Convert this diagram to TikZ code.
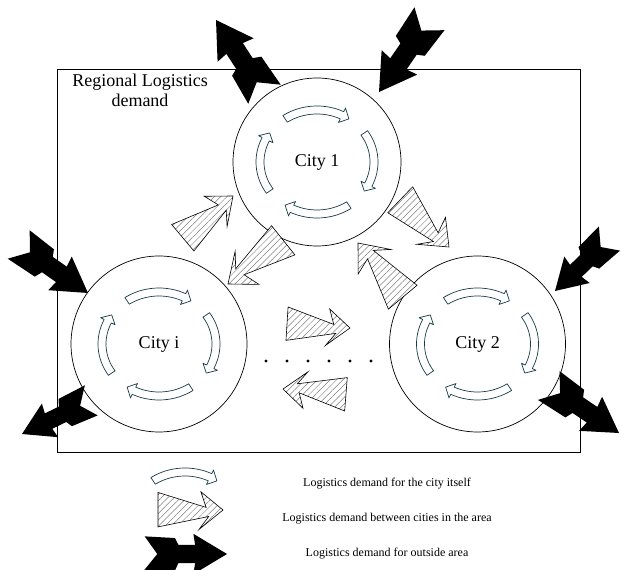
\documentclass[tikz,border=0pt]{standalone}
\usepackage{fontspec}
\setmainfont{Liberation Serif}
\usetikzlibrary{positioning,calc,math,patterns.meta}
\definecolor{cycleline}{RGB}{22,58,70}
\tikzset{
	city/.style = {draw, circle, line width=0.7pt, minimum size=#1, inner sep=0pt, font=\fontsize{18}{20}\selectfont},
	regionbox/.style = {draw, rectangle, line width=0.8pt, minimum width=523pt, minimum height=383pt},
	regionlabel/.style = {align=center, font=\fontsize{18}{20}\selectfont},
	legendtext/.style = {font=\fontsize{12}{14}\selectfont},
	selfline/.style = {draw=cycleline, fill=white, line width=0.7pt, line join=round},
	hatchline/.style = {draw, line width=0.6pt, line join=miter, preaction={fill=white}, pattern={Lines[angle=#1, distance=4.5pt, line width=0.5pt]}, pattern color=gray},
	hatchline/.default = 45
}
\tikzset{%
	pics/selfflow/.style={code={
			\foreach \a in {#1}{
				\path[selfline] (\a+34:61 and 56) arc[start angle=\a+34, end angle=\a-26, x radius=61, y radius=56]
				-- (\a-26:65 and 60) -- (\a-34:57 and 52) -- (\a-26:49 and 44) -- (\a-26:53 and 48)
				arc[start angle=\a-26, end angle=\a+34, x radius=53, y radius=48] -- cycle;
			}
		}},
	pics/areaflow/.style args={from (#1,#2) to (#3,#4)}{code={
			\tikzmath{\ux = #3-#1; \uy = #4-#2; \vx = #2-#4;}
			\begin{scope}[shift={(#1,#2)}, x={(\ux pt,\uy pt)}, y={(\vx pt,\ux pt)}]
				\path[hatchline] (0,0.27) -- (0.74,0.04) -- (0.66,0.28) -- (1,0) -- (0.63,-0.3) -- (0.78,-0.1) -- (0,-0.26) -- cycle;
			\end{scope}
		}},
	pics/outflow/.style args={from (#1,#2) to (#3,#4)}{code={
			\tikzmath{\ux = #3-#1; \uy = #4-#2; \vx = #2-#4;}
			\begin{scope}[shift={(#1,#2)}, x={(\ux pt,\uy pt)}, y={(\vx pt,\ux pt)}]
				\fill (0.02,0.21) -- (0.38,0.19) -- (0.42,0.11) -- (0.62,0.11) -- (0.6,0.24) -- (1,0) -- (0.6,-0.24) -- (0.62,-0.11) -- (0.42,-0.11) -- (0.38,-0.2) -- (0,-0.21) -- (0.17,0) -- cycle;
			\end{scope}
		}}
}

\begin{document}
\begin{tikzpicture}[x=1pt, y=1pt]
	\useasboundingbox (0,0) rectangle (621,570);
	\node[regionbox] (region) at (318.5,309.5) {};
	\node[regionlabel] (regionname) at (140,480) {Regional Logistics\\demand};
	\node[city=168pt] (city1) at (317,408) {City 1};
	\node[city=176pt] (cityi) at (159,226) {City i};
	\node[city=176pt] (city2) at (477.5,226) {City 2};
	\pic at (city1) {selfflow={90,0,-90,180}};
	\pic at (cityi) {selfflow={90,0,-90,180}};
	\pic at (city2) {selfflow={90,0,-90,180}};
	% between the cities
	\pic {areaflow={from (183,332) to (233,374)}};
	\pic {areaflow={from (283,330) to (228,286)}};
	\pic {areaflow={from (400,370) to (449,323)}};
	\pic {areaflow={from (403,273) to (358,327)}};
	\pic {areaflow={from (287,246) to (350,242)}};
	\pic {areaflow={from (346,176) to (283,181)}};
	\foreach \k in {0,...,5} \fill (266+21*\k,209) circle (1.6);
	% to and from outside
	\pic {outflow={from (265,475) to (216,550)}};
	\pic {outflow={from (430,552) to (379,478)}};
	\pic {outflow={from (18,326) to (88,277)}};
	\pic {outflow={from (610,332) to (555,279)}};
	\pic {outflow={from (92,170) to (22,136)}};
	\pic {outflow={from (548,185) to (619,137)}};
	% legend
	\pic at (185,46) {selfflow=90};
	\pic {areaflow={from (158,60) to (223,60)}};
	\pic {outflow={from (143,16) to (227,16)}};
	\node[legendtext] (legself) at (387,86) {Logistics demand for the city itself};
	\node[legendtext] (legarea) at (387,51) {Logistics demand between cities in the area};
	\node[legendtext] (legout) at (387,16) {Logistics demand for outside area};
\end{tikzpicture}
\end{document}
